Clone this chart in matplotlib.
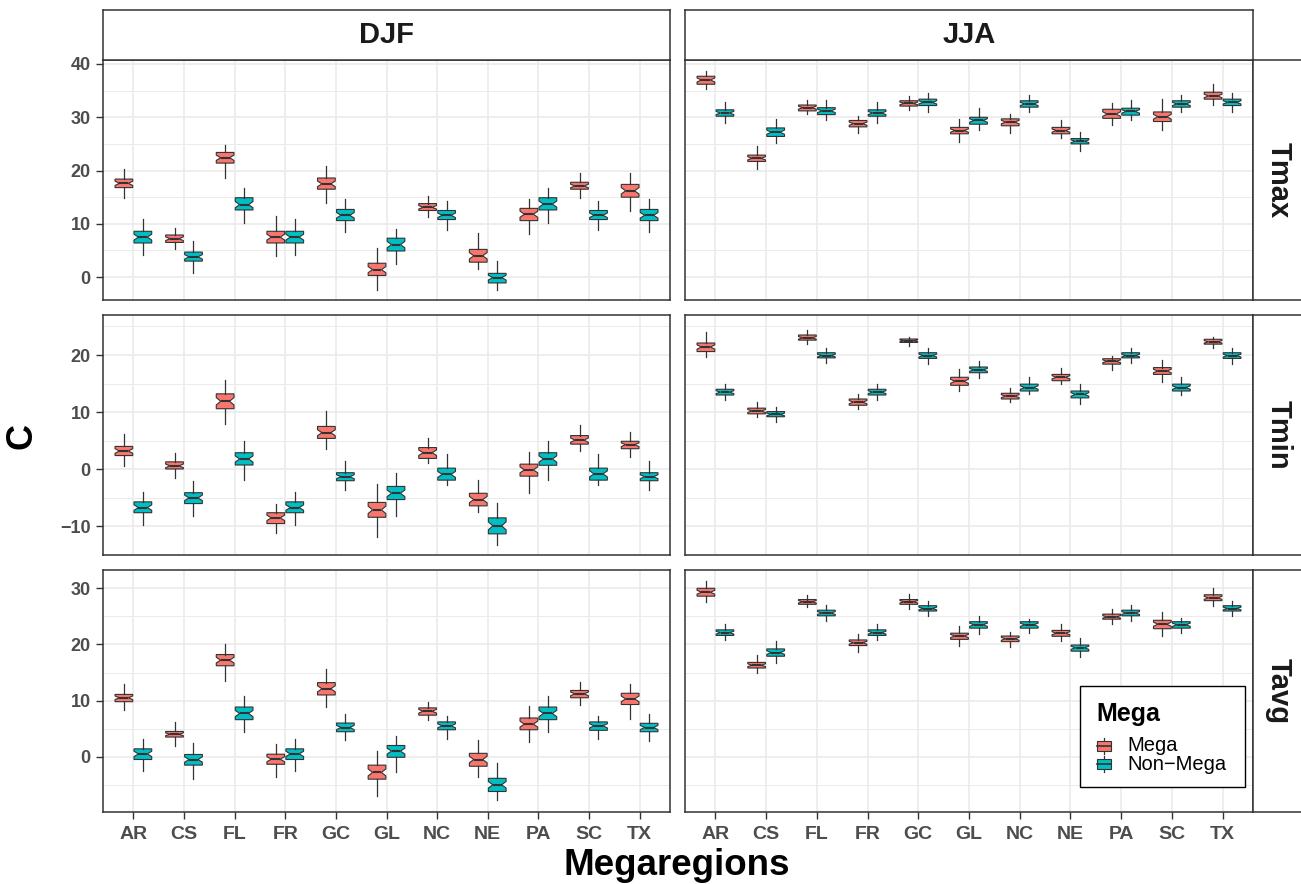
import matplotlib
matplotlib.use('Agg')
import matplotlib.pyplot as plt
import numpy as np
from matplotlib.patches import Rectangle
from matplotlib.lines import Line2D

plt.rcParams['font.family'] = ['Liberation Sans', 'DejaVu Sans']

REGIONS = ['AR', 'CS', 'FL', 'FR', 'GC', 'GL', 'NC', 'NE', 'PA', 'SC', 'TX']
SEASONS = ['DJF', 'JJA']
VARS = ['Tmax', 'Tmin', 'Tavg']
GROUPS = ['Mega', 'Non\u2212Mega']
MEGA_COLOR = '#F8766D'
NON_COLOR = '#00BFC4'
N_YEARS = 40  # sample size used for the notch (median +/- 1.58*IQR/sqrt(n))

# box stats per region: (lower whisker, q1, median, q3, upper whisker)
djf_tmax_mega = [(14.9, 16.8, 17.6, 18.4, 20.3), (5.3, 6.5, 7.2, 7.9, 9.3), (18.6, 21.4, 22.4, 23.4, 24.8),
                 (3.9, 6.4, 7.5, 8.6, 11.5), (14.0, 16.5, 17.5, 18.6, 20.8), (-2.4, 0.3, 1.4, 2.6, 5.5),
                 (11.3, 12.5, 13.1, 13.8, 15.2), (1.5, 2.8, 4.0, 5.2, 8.2), (8.1, 10.6, 11.8, 12.9, 14.6),
                 (14.9, 16.5, 17.1, 17.8, 19.5), (12.4, 15.0, 16.2, 17.4, 19.5)]
djf_tmax_non = [(4.1, 6.4, 7.5, 8.6, 10.9), (0.7, 3.0, 3.8, 4.7, 6.8), (10.1, 12.6, 13.6, 14.9, 16.7),
                (4.1, 6.4, 7.5, 8.6, 10.9), (8.4, 10.6, 11.6, 12.7, 14.6), (2.5, 4.9, 6.1, 7.3, 9.1),
                (8.8, 10.8, 11.6, 12.5, 14.3), (-2.4, -1.1, -0.1, 0.7, 3.0), (10.1, 12.6, 13.7, 14.9, 16.7),
                (8.9, 10.8, 11.6, 12.5, 14.3), (8.4, 10.6, 11.6, 12.7, 14.6)]
jja_tmax_mega = [(35.3, 36.2, 37.0, 37.7, 38.7), (20.3, 21.7, 22.3, 22.9, 24.6), (30.6, 31.2, 31.8, 32.3, 33.2),
                 (27.0, 28.2, 28.8, 29.4, 30.3), (31.4, 32.1, 32.6, 33.1, 34.0), (25.4, 26.9, 27.5, 28.1, 29.7),
                 (27.1, 28.4, 29.1, 29.7, 30.6), (26.2, 26.9, 27.5, 28.1, 29.4), (28.6, 29.8, 30.6, 31.5, 32.7),
                 (27.6, 29.2, 30.1, 31.0, 33.4), (32.3, 33.4, 34.0, 34.7, 36.2)]
jja_tmax_non = [(29.0, 30.2, 30.8, 31.4, 32.8), (25.1, 26.4, 27.2, 28.0, 29.7), (29.4, 30.5, 31.2, 31.8, 33.2),
                (29.0, 30.2, 30.8, 31.4, 32.8), (31.0, 32.2, 32.8, 33.4, 34.5), (27.6, 28.7, 29.4, 30.0, 31.7),
                (30.9, 31.9, 32.5, 33.1, 34.2), (23.7, 25.0, 25.5, 26.0, 27.2), (29.4, 30.4, 31.1, 31.7, 33.2),
                (30.9, 31.9, 32.5, 33.1, 34.2), (31.0, 32.2, 32.8, 33.4, 34.5)]
djf_tmin_mega = [(0.5, 2.4, 3.2, 4.0, 6.1), (-1.5, 0.05, 0.6, 1.3, 2.8), (7.9, 10.6, 11.9, 13.2, 15.6),
                 (-11.1, -9.5, -8.5, -7.6, -6.0), (3.5, 5.4, 6.4, 7.5, 10.2), (-11.8, -8.4, -7.1, -5.8, -2.5),
                 (1.1, 1.9, 2.9, 3.8, 5.5), (-7.5, -6.4, -5.3, -4.2, -1.9), (-4.1, -1.2, -0.1, 0.9, 3.0),
                 (3.2, 4.4, 5.1, 5.9, 7.7), (2.1, 3.6, 4.3, 4.9, 6.5)]
djf_tmin_non = [(-9.8, -7.6, -6.7, -5.7, -3.9), (-8.1, -6.0, -5.0, -4.1, -2.0), (-1.8, 0.75, 1.8, 2.9, 5.0),
                (-9.7, -7.6, -6.7, -5.7, -3.9), (-3.6, -2.0, -1.3, -0.6, 1.5), (-8.2, -5.3, -4.2, -3.0, -0.6),
                (-2.8, -1.9, -0.9, 0.2, 2.6), (-13.3, -11.3, -9.9, -8.5, -5.9), (-1.8, 0.7, 1.8, 2.9, 5.0),
                (-2.8, -1.9, -0.8, 0.2, 2.6), (-3.6, -2.0, -1.3, -0.6, 1.5)]
jja_tmin_mega = [(19.6, 20.6, 21.4, 22.1, 24.0), (9.2, 9.7, 10.2, 10.7, 11.75), (21.9, 22.6, 23.0, 23.5, 24.4),
                 (10.6, 11.2, 11.75, 12.3, 13.1), (21.5, 22.2, 22.5, 22.8, 23.2), (13.7, 14.7, 15.4, 16.1, 17.5),
                 (11.75, 12.3, 12.8, 13.3, 14.3), (14.9, 15.5, 16.1, 16.6, 17.7), (17.3, 18.4, 18.9, 19.35, 19.9),
                 (15.3, 16.6, 17.2, 17.8, 19.1), (21.3, 21.9, 22.3, 22.75, 23.2)]
jja_tmin_non = [(12.2, 13.0, 13.5, 14.0, 14.9), (8.2, 9.2, 9.6, 10.1, 10.9), (18.6, 19.5, 19.9, 20.4, 21.2),
                (12.2, 13.0, 13.5, 14.0, 14.9), (18.5, 19.4, 19.9, 20.4, 21.2), (15.9, 16.9, 17.4, 17.9, 18.9),
                (13.1, 13.7, 14.3, 14.9, 16.1), (11.5, 12.5, 13.1, 13.7, 14.9), (18.6, 19.5, 19.9, 20.4, 21.2),
                (13.0, 13.7, 14.3, 14.9, 16.1), (18.5, 19.4, 19.9, 20.4, 21.2)]
djf_tavg_mega = [(8.3, 9.8, 10.5, 11.1, 12.9), (1.9, 3.5, 4.0, 4.5, 6.2), (13.4, 16.2, 17.2, 18.2, 20.1),
                 (-3.6, -1.35, -0.45, 0.45, 2.3), (8.85, 11.0, 12.1, 13.2, 15.6), (-7.05, -4.0, -2.8, -1.5, 1.1),
                 (6.5, 7.4, 8.1, 8.7, 9.7), (-3.6, -1.7, -0.5, 0.6, 2.9), (2.6, 4.8, 5.8, 6.9, 9.0),
                 (9.2, 10.5, 11.2, 11.8, 13.25), (6.8, 9.3, 10.3, 11.3, 12.95)]
djf_tavg_non = [(-2.5, -0.5, 0.5, 1.4, 3.1), (-4.0, -1.5, -0.5, 0.4, 2.4), (4.45, 6.6, 7.7, 8.85, 10.8),
                (-2.5, -0.5, 0.5, 1.4, 3.1), (2.9, 4.45, 5.2, 6.0, 7.6), (-2.8, -0.1, 1.0, 2.0, 3.7),
                (3.2, 4.8, 5.5, 6.2, 7.2), (-7.8, -6.2, -5.0, -3.85, -1.1), (4.45, 6.6, 7.7, 8.85, 10.8),
                (3.2, 4.7, 5.5, 6.2, 7.25), (2.85, 4.45, 5.2, 5.95, 7.6)]
jja_tavg_mega = [(27.6, 28.6, 29.3, 30.0, 31.25), (14.85, 15.8, 16.3, 16.8, 18.1), (26.6, 27.15, 27.6, 28.0, 28.8),
                 (18.7, 19.8, 20.3, 20.8, 21.9), (26.4, 27.15, 27.6, 28.0, 29.0), (19.7, 20.9, 21.5, 22.0, 23.2),
                 (19.5, 20.5, 21.0, 21.5, 22.3), (20.7, 21.45, 22.0, 22.5, 23.7), (23.6, 24.5, 24.9, 25.4, 26.4),
                 (21.45, 22.8, 23.6, 24.3, 25.8), (26.85, 27.8, 28.3, 28.85, 30.0)]
jja_tavg_non = [(20.8, 21.6, 22.1, 22.6, 23.6), (16.75, 17.9, 18.55, 19.2, 20.7), (24.2, 25.1, 25.6, 26.1, 27.1),
                (20.8, 21.6, 22.1, 22.6, 23.6), (25.1, 25.95, 26.4, 26.9, 27.8), (21.9, 22.9, 23.5, 24.05, 25.1),
                (22.0, 22.9, 23.5, 24.05, 24.6), (17.8, 18.8, 19.4, 19.9, 21.15), (24.2, 25.1, 25.6, 26.1, 27.1),
                (22.0, 22.9, 23.5, 24.05, 24.65), (25.1, 25.95, 26.4, 26.9, 27.8)]

PANELS = {
    ('DJF', 'Tmax'): (djf_tmax_mega, djf_tmax_non), ('JJA', 'Tmax'): (jja_tmax_mega, jja_tmax_non),
    ('DJF', 'Tmin'): (djf_tmin_mega, djf_tmin_non), ('JJA', 'Tmin'): (jja_tmin_mega, jja_tmin_non),
    ('DJF', 'Tavg'): (djf_tavg_mega, djf_tavg_non), ('JJA', 'Tavg'): (jja_tavg_mega, jja_tavg_non),
}
YLIMS = {'Tmax': (-4.3, 40.75), 'Tmin': (-15.0, 27.0), 'Tavg': (-9.85, 33.26)}
YTICKS = {'Tmax': [0, 10, 20, 30, 40], 'Tmin': [-10, 0, 10, 20], 'Tavg': [0, 10, 20, 30]}

W, H = 1301, 884
fig = plt.figure(figsize=(W / 100, H / 100), dpi=100)
fig.patch.set_facecolor('white')

def px_axes(x0, y0, x1, y1):
    return fig.add_axes([x0 / W, 1 - y1 / H, (x1 - x0) / W, (y1 - y0) / H])

def fx(px):
    return px / W

def fy(py):
    return 1 - py / H

COL_X = [(103, 670), (685, 1253)]
ROW_Y = [(60, 300), (315, 555), (570, 812)]
EDGE = '#333333'
GRID = '#EBEBEB'

def to_stats(rows):
    out = []
    for lo, q1, med, q3, hi in rows:
        h = 1.58 * (q3 - q1) / np.sqrt(N_YEARS)
        out.append(dict(whislo=lo, q1=q1, med=med, q3=q3, whishi=hi,
                        cilo=med - h, cihi=med + h, fliers=[]))
    return out

x = np.arange(1, len(REGIONS) + 1)
for r, var in enumerate(VARS):
    for c, season in enumerate(SEASONS):
        ax = px_axes(COL_X[c][0], ROW_Y[r][0], COL_X[c][1], ROW_Y[r][1])
        ax.set_facecolor('white')
        yt = YTICKS[var]
        ax.set_yticks(yt)
        minor = [v + 5 for v in [yt[0] - 10] + yt]
        ax.set_yticks(minor, minor=True)
        ax.set_xticks(x)
        ax.set_xticklabels(REGIONS)
        ax.grid(which='major', color=GRID, lw=1.2)
        ax.grid(which='minor', axis='y', color=GRID, lw=0.7)
        ax.set_axisbelow(True)
        for s in ax.spines.values():
            s.set_edgecolor(EDGE); s.set_linewidth(1.1); s.set_zorder(5)
        ax.tick_params(which='major', length=5, width=1.0, color=EDGE, labelcolor='#4D4D4D', pad=4)
        ax.tick_params(which='minor', length=0)
        ax.tick_params(axis='x', labelsize=14, pad=5)
        ax.tick_params(axis='y', labelsize=13)
        for lab in ax.get_xticklabels() + ax.get_yticklabels():
            lab.set_fontweight('bold')
        if c == 1:
            ax.tick_params(axis='y', length=0, labelleft=False)
        if r < 2:
            ax.tick_params(axis='x', length=0, labelbottom=False)

        mega, non = PANELS[(season, var)]
        for rows, off, col in [(mega, -0.1875, MEGA_COLOR), (non, 0.1875, NON_COLOR)]:
            ax.bxp(to_stats(rows), positions=x + off, widths=0.35, shownotches=True,
                   showcaps=False, showfliers=False, patch_artist=True, manage_ticks=False,
                   boxprops=dict(facecolor=col, edgecolor=EDGE, lw=0.8),
                   whiskerprops=dict(color=EDGE, lw=0.9),
                   medianprops=dict(color=EDGE, lw=1.5))
        ax.set_xlim(0.4, len(REGIONS) + 0.6)
        ax.set_ylim(*YLIMS[var])

# strips
for c, season in enumerate(SEASONS):
    sa = px_axes(COL_X[c][0], 10, COL_X[c][1], 60)
    sa.set_xticks([]); sa.set_yticks([])
    sa.set_facecolor('white')
    for s in sa.spines.values():
        s.set_edgecolor(EDGE); s.set_linewidth(1.1)
    sa.text(0.5, 0.5, season, ha='center', va='center', fontsize=21, fontweight='bold',
            color='#1A1A1A', transform=sa.transAxes)
for r, var in enumerate(VARS):
    sa = px_axes(1253, ROW_Y[r][0], 1304, ROW_Y[r][1])
    sa.set_xticks([]); sa.set_yticks([])
    sa.set_facecolor('white')
    for s in sa.spines.values():
        s.set_edgecolor(EDGE); s.set_linewidth(1.1)
    sa.text(0.5, 0.5, var, ha='center', va='center', rotation=-90, fontsize=21,
            fontweight='bold', color='#1A1A1A', transform=sa.transAxes)

fig.text(fx(22), fy(436), 'C', rotation=90, ha='center', va='center',
         fontsize=26, fontweight='bold')
fig.text(fx(677), fy(875), 'Megaregions', ha='center', va='baseline',
         fontsize=26.5, fontweight='bold')

# legend (drawn by hand to match ggplot's compact key layout)
fig.add_artist(Rectangle((fx(1080), fy(787)), fx(165), 101 / H, transform=fig.transFigure,
                         facecolor='white', edgecolor='black', lw=1.0, zorder=10))
fig.text(fx(1096), fy(721), 'Mega', ha='left', va='baseline', fontsize=18,
         fontweight='bold', zorder=11)
for label, col, cy in zip(GROUPS, [MEGA_COLOR, NON_COLOR], [745.7, 764.3]):
    fig.add_artist(Line2D([fx(1104), fx(1104)], [fy(cy - 8), fy(cy + 8)], transform=fig.transFigure,
                          color=EDGE, lw=0.9, zorder=11))
    fig.add_artist(Rectangle((fx(1097), fy(cy + 5)), fx(14), 10 / H, transform=fig.transFigure,
                             facecolor=col, edgecolor=EDGE, lw=0.8, zorder=12))
    fig.add_artist(Line2D([fx(1097), fx(1111)], [fy(cy), fy(cy)], transform=fig.transFigure,
                          color=EDGE, lw=1.2, zorder=13))
    fig.text(fx(1127), fy(cy + 5.5), label, ha='left', va='baseline', fontsize=14.5, zorder=11)

fig.savefig('out.png', dpi=100, facecolor='white')
